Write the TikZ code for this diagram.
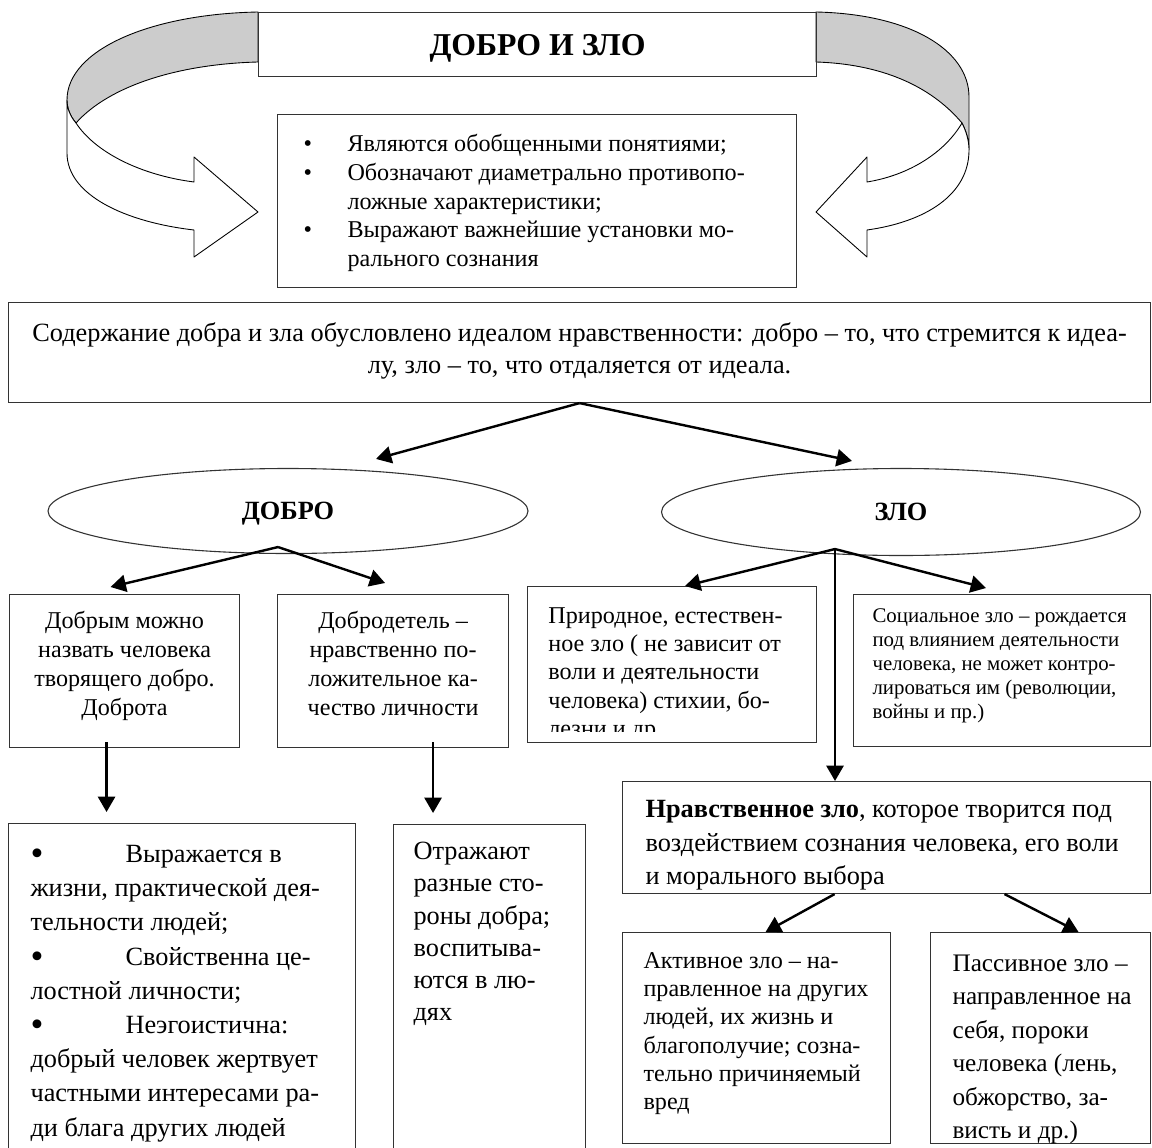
\documentclass[tikz,border=0pt]{standalone}
\usepackage{fontspec}
\usepackage{graphicx}
\setmainfont{Liberation Serif}
\usetikzlibrary{arrows.meta, positioning, shapes.geometric}

\newlength\pxu
\setlength\pxu{0.456pt}
% width, height, top pad, left pad, text
\newcommand\boxtxt[5]{\parbox[c][#2\pxu][t]{#1\pxu}{\vspace*{#3\pxu}\leftskip=#4\pxu\relax #5}}
\newcommand\bdot{\raisebox{-0.12em}{\scalebox{1.4}{\textbullet}}}
\newcommand\bitem{\par\noindent\hangindent=44\pxu\hangafter=1\makebox[44\pxu][l]{\textbullet}\strut}

\tikzset{
  box/.style={draw=black!80, line width=0.5pt, anchor=north west, inner sep=0pt},
  oval/.style={draw=black!80, line width=0.5pt, ellipse, inner sep=0pt,
    text height=7.9pt, text depth=0pt, font=\fontsize{12}{14}\selectfont\bfseries},
  arr/.style={-{Triangle[length=7pt,width=7.8pt]}, line width=1.1pt},
  band/.style={draw=black, line width=0.4pt, line join=round},
}

\begin{document}
\begin{tikzpicture}[x=\pxu, y=-\pxu]
  \useasboundingbox (0,0) rectangle (1152,1147);
  \clip (0,0) rectangle (1152,1147);

  % curved arrows round the title
  \filldraw[band, fill=black!20] (258,12) .. controls (150,14) and (67,50) .. (67,100)
    .. controls (67,108) and (70,116) .. (76,123)
    .. controls (110,85) and (180,64) .. (258,62) -- cycle;
  \filldraw[band, fill=white] (67,100) -- (67,153) .. controls (67,195) and (125,222) .. (194,230)
    -- (194,257) -- (258,212) -- (194,157) -- (194,182)
    .. controls (140,175) and (95,152) .. (76,123)
    .. controls (70,116) and (67,108) .. (67,100) -- cycle;
  \filldraw[band, fill=black!20] (816,12) .. controls (910,14) and (969,50) .. (969,97) -- (969,150)
    .. controls (969,140) and (966,131) .. (962,123)
    .. controls (930,85) and (880,64) .. (816,62) -- cycle;
  \filldraw[band, fill=white] (969,150) .. controls (969,195) and (925,222) .. (867,230)
    -- (867,257) -- (816,212) -- (867,157) -- (867,182)
    .. controls (910,175) and (945,152) .. (962,123)
    .. controls (966,131) and (969,140) .. (969,150) -- cycle;

  \node[box, minimum width=558\pxu, minimum height=64\pxu, text height=9.6pt, text depth=0pt,
    font=\fontsize{14.5}{16}\selectfont\bfseries] (title) at (258,12) {ДОБРО И ЗЛО};
  \node[box] (props) at (277,114) {\boxtxt{519}{173}{17}{26}{\fontsize{11}{13.1}\selectfont
    \bitem Являются обобщенными понятиями;
    \bitem Обозначают диаметрально противопо-\\ложные характеристики;
    \bitem Выражают важнейшие установки мо-\\рального сознания}};

  \node[box] (ideal) at (8,302) {\boxtxt{1142}{100}{17}{0}{\fontsize{12}{14.6}\selectfont\centering
    \strut Содержание добра и зла обусловлено идеалом нравственности: добро – то, что стремится к идеа-\\лу, зло – то, что отдаляется от идеала.}};

  \node[oval, minimum width=480\pxu, minimum height=85\pxu] (dobro) at (288,511) {ДОБРО};
  \node[oval, minimum width=479\pxu, minimum height=87\pxu] (zlo) at (901,512) {ЗЛО};
  \coordinate (dobro-fork) at ([shift={(-10,-7)}]dobro.south);
  \coordinate (zlo-fork) at ([shift={(-66,-7)}]zlo.south);

  % second row
  \node[box] (dobrym) at (9,594) {\boxtxt{230}{153}{14}{0}{\fontsize{11}{13.2}\selectfont\centering
    \strut Добрым можно\\назвать человека\\творящего добро.\\Доброта}};
  \node[box] (dobrod) at (277,594) {\boxtxt{231}{153}{14}{0}{\fontsize{11}{13.2}\selectfont\centering
    \strut Добродетель –\\нравственно по-\\ложительное ка-\\чество личности}};
  \node[box, minimum width=289\pxu, minimum height=156\pxu] (priroda) at (527,586) {};
  \begin{scope}
    \clip (527,586) rectangle (816,731);
    \node[anchor=north west, inner sep=0pt] (priroda-txt) at (527,586) {\boxtxt{289}{156}{17}{21}{\fontsize{11}{12.9}\selectfont
      \strut Природное, естествен-\\ное зло ( не зависит от\\воли и деятельности\\человека) стихии, бо-\\лезни и др.}};
  \end{scope}
  \node[box] (social) at (853,594) {\boxtxt{297}{152}{11.5}{19}{\fontsize{9.5}{10.9}\selectfont
    \strut Социальное зло – рождается\\под влиянием деятельности\\человека, не может контро-\\лироваться им (революции,\\войны и пр.)}};

  % lower boxes
  \node[box] (vyrazh) at (8,823) {\boxtxt{347}{340}{15}{22}{\fontsize{12}{15.6}\selectfont
    \strut\makebox[95\pxu][l]{\bdot}Выражается в\\
    жизни, практической дея-\\
    тельности людей;\\
    \makebox[95\pxu][l]{\bdot}Свойственна це-\\
    лостной личности;\\
    \makebox[95\pxu][l]{\bdot}Неэгоистична:\\
    добрый человек жертвует\\
    частными интересами ра-\\
    ди блага других людей}};
  \node[box] (otraj) at (393,824) {\boxtxt{192}{340}{13}{20}{\fontsize{12}{14.6}\selectfont
    \strut Отражают\\разные сто-\\роны добра;\\воспитыва-\\ются в лю-\\дях}};
  \node[box] (nrav) at (622,781) {\boxtxt{528}{112}{13}{23}{\fontsize{12}{15.2}\selectfont
    \strut\textbf{Нравственное зло}, которое творится под\\воздействием сознания человека, его воли\\и морального выбора}};
  \node[box] (aktiv) at (622,932) {\boxtxt{268}{211}{16}{21}{\fontsize{11}{12.9}\selectfont
    \strut Активное зло – на-\\правленное на других\\людей, их жизнь и\\благополучие; созна-\\тельно причиняемый\\вред}};
  \node[box] (passiv) at (930,932) {\boxtxt{220}{211}{15}{22}{\fontsize{11.5}{15.3}\selectfont
    \strut Пассивное зло –\\направленное на\\себя, пороки\\человека (лень,\\обжорство, за-\\висть и др.)}};

  % connectors
  \draw[arr] (ideal.south) -- ([shift={(88,-9)}]dobro.north);
  \draw[arr] (ideal.south) -- ([shift={(-49,-7)}]zlo.north);
  \draw[arr] (dobro-fork) -- ([shift={(-14,-7)}]dobrym.north);
  \draw[arr] (dobro-fork) -- ([shift={(-8,-11)}]dobrod.north);
  \draw[arr] (zlo-fork) -- ([shift={(13,0)}]priroda.north);
  \draw[arr] (zlo-fork) -- ([shift={(-16,-6)}]social.north);
  \draw[arr] (zlo-fork) -- (zlo-fork |- nrav.north);
  \draw[arr, shorten >=5\pxu] ([shift={(-18,-6)}]dobrym.south) -- ([shift={(-18,-6)}]dobrym.south |- vyrazh.north);
  \draw[arr, shorten >=5\pxu] ([shift={(40,-6)}]dobrod.south) -- ([shift={(40,-6)}]dobrod.south |- otraj.north);
  \draw[arr] ([xshift=-52\pxu]nrav.south) -- ([xshift=9\pxu]aktiv.north);
  \draw[arr] ([xshift=118\pxu]nrav.south) -- ([xshift=38\pxu]passiv.north);
\end{tikzpicture}
\end{document}
